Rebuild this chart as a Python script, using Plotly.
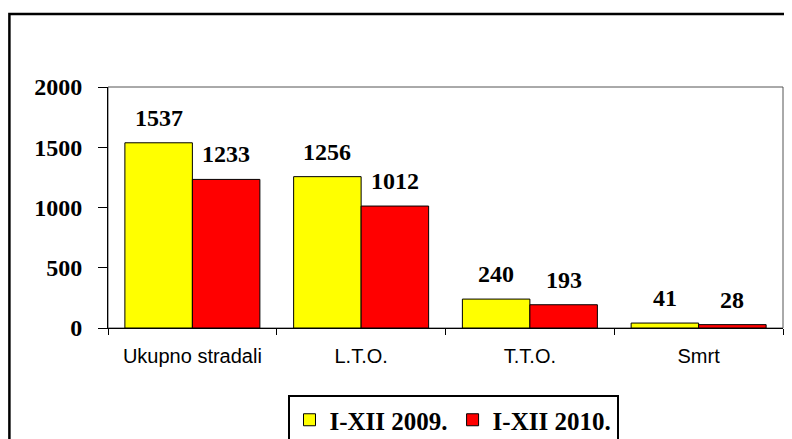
import plotly.graph_objects as go

categories = ["Ukupno stradali", "L.T.O.", "T.T.O.", "Smrt"]
series_2009 = [1537, 1256, 240, 41]
series_2010 = [1233, 1012, 193, 28]
series_names = ["I-XII 2009.", "I-XII 2010."]
y_ticks = [0, 500, 1000, 1500, 2000]

serif = "Liberation Serif, Times New Roman, serif"
sans = "Liberation Sans, Arial, sans-serif"

# page body has an 8px margin; figure is sized to fit the remaining viewport
OFF = 8
W, H = 792 - OFF, 439 - OFF
L, R, T, B = 108 - OFF, 9, 87 - OFF, 111
pw = W - L - R
ph = H - T - B

fig = go.Figure()
fig.add_trace(go.Bar(x=categories, y=series_2009, name=series_names[0],
                     marker=dict(color="#FFFF00", line=dict(color="#000000", width=1))))
fig.add_trace(go.Bar(x=categories, y=series_2010, name=series_names[1],
                     marker=dict(color="#FF0000", line=dict(color="#000000", width=1))))

half = pw / len(categories) * 0.8 / 4
for vals, sh in ((series_2009, -half), (series_2010, half)):
    for c, v in zip(categories, vals):
        fig.add_annotation(x=c, y=v, text=str(v), showarrow=False, xshift=sh, yshift=25,
                           yanchor="middle", font=dict(family=serif, size=24, color="black", weight="bold"))

def px_x(p):
    return (p - OFF - L) / pw

def px_y(p):
    return (H - B - (p - OFF)) / ph

# outer frame
fig.add_shape(type="rect", xref="paper", yref="paper", x0=px_x(9.4), x1=px_x(820), y0=px_y(14), y1=px_y(470),
              line=dict(color="black", width=2.5), layer="below")
# plot area frame
fig.add_shape(type="rect", xref="x domain", yref="y domain", x0=0, x1=1, y0=0, y1=1,
              line=dict(color="#555555", width=1), layer="below")

fig.update_layout(
    width=W, height=H,
    margin=dict(l=L, r=R, t=T, b=B, autoexpand=False),
    paper_bgcolor="white", plot_bgcolor="white",
    barmode="group", bargap=0.2, bargroupgap=0,
    showlegend=True,
    legend=dict(orientation="h", x=px_x(453), xanchor="center", y=px_y(395), yanchor="top",
                font=dict(family=serif, size=25, color="black", weight="bold"),
                bordercolor="black", borderwidth=2, bgcolor="white",
                tracegroupgap=0),
    xaxis=dict(showline=True, linecolor="black", linewidth=1, ticks="outside", ticklen=6,
               tickcolor="black", tickson="boundaries", showgrid=False, ticklabelstandoff=10,
               tickfont=dict(family=sans, size=20, color="black")),
    yaxis=dict(range=[0, 2000], tickvals=y_ticks, showline=True, linecolor="black", linewidth=1,
               ticks="outside", ticklen=9, tickcolor="black", showgrid=False, zeroline=False,
               ticklabelstandoff=11,
               tickfont=dict(family=serif, size=24, color="black", weight="bold")),
)

fig.write_html("out.html")
